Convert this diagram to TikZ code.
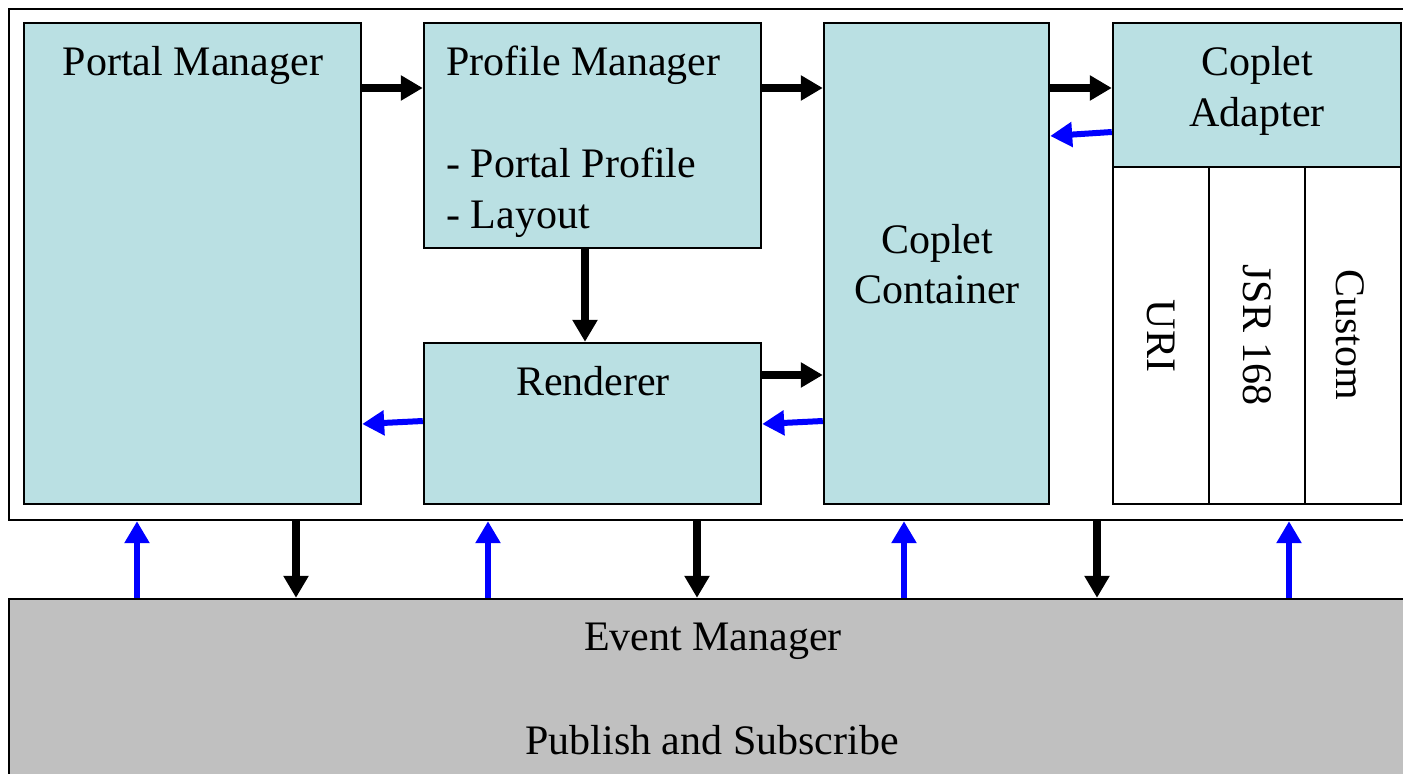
\documentclass[tikz,border=0pt]{standalone}
\usepackage{fontspec}
\setmainfont{Liberation Serif}
\usetikzlibrary{arrows.meta,fit}
\definecolor{boxcyan}{RGB}{186,224,227}
\definecolor{evgrey}{RGB}{192,192,192}
\definecolor{evblue}{RGB}{0,0,255}

\begin{document}
\begin{tikzpicture}[x=0.5pt,y=-0.5pt,font=\fontsize{21}{25.5}\selectfont]%
\tikzstyle{box}=[draw,line width=1.2pt,inner sep=0pt,fill=boxcyan] %%
\tikzstyle{cell}=[draw,line width=1.2pt,inner sep=0pt,fill=white] %%
\tikzstyle{txt}=[inner sep=0pt] %%
\tikzstyle{blk}=[line width=3.8pt,-{Triangle[length=11pt,width=12pt]}] %%
\tikzstyle{blu}=[evblue,line width=3pt,-{Triangle[length=11pt,width=12pt]}] %%
\useasboundingbox (0,0) rectangle (1403,774);
\node[draw,line width=1.2pt,inner sep=0pt,fit={(9,9) (1412,520)}] (frame) {}; %%
\node[draw,line width=1.2pt,inner sep=0pt,fill=evgrey,fit={(9,599) (1412,790)}] (ev) {}; %%
\begin{scope}
\node[box,fit={(24,23) (361,504)}] (pm) {}; %%
\node[box,fit={(424,23) (761,248)}] (pfm) {}; %%
\node[box,fit={(424,343) (761,504)}] (rd) {}; %%
\node[box,fit={(824,23) (1049,504)}] (cc) {}; %%
\node[box,fit={(1113,23) (1401,167)}] (ca) {}; %%
\node[cell,fit={(1113,167) (1209,504)}] (uri) {}; %%
\node[cell,fit={(1209,167) (1305,504)}] (jsr) {}; %%
\node[cell,fit={(1305,167) (1401,504)}] (cust) {}; %%
\end{scope}
\node[txt,anchor=base] (pmt) at (193,76) {Portal Manager};%
\node[txt,anchor=base west] (pft1) at (446,76) {Profile Manager};%
\node[txt,anchor=base west] (pft2) at (446,178) {- Portal Profile};%
\node[txt,anchor=base west] (pft3) at (446,229) {- Layout};%
\node[txt,anchor=base] (rdt) at (593,396) {Renderer};%
\node[txt,anchor=base] (cct1) at (937,254) {Coplet};%
\node[txt,anchor=base] (cct2) at (937,304) {Container};%
\node[txt,anchor=base] (cat1) at (1257,76) {Coplet};%
\node[txt,anchor=base] (cat2) at (1257,127) {Adapter};%
\node[txt,rotate=-90] (urit) at (1161,336) {URI};%
\node[txt,rotate=-90] (jsrt) at (1257,335) {JSR 168};%
\node[txt,rotate=-90] (custt) at (1350,335) {Custom};%
\node[txt,anchor=base] (evt1) at (713,651) {Event Manager};%
\node[txt,anchor=base] (evt2) at (712,754) {Publish and Subscribe};%

\draw[blk] (pm.east |- 0,88) -- (pfm.west |- 0,88); %%
\draw[blk] (pfm.east |- 0,88) -- (cc.west |- 0,88); %%
\draw[blk] (cc.east |- 0,88) -- (ca.west |- 0,88); %%
\draw[blu] (ca.west |- 0,132) -- (cc.east |- 0,136); %%
\draw[blk] (pfm.south -| 585,0) -- (rd.north -| 585,0); %%
\draw[blk] (rd.east |- 0,375) -- (cc.west |- 0,375); %%
\draw[blu] (cc.west |- 0,421) -- (rd.east |- 0,424); %%
\draw[blu] (rd.west |- 0,421) -- (pm.east |- 0,424); %%

\foreach \x in {137,488,904,1289} \draw[blu] (ev.north -| \x,0) -- (frame.south -| \x,0); %%
\foreach \x in {296,697,1097} \draw[blk] (frame.south -| \x,0) -- (ev.north -| \x,0); %%
\end{tikzpicture}
\end{document}
